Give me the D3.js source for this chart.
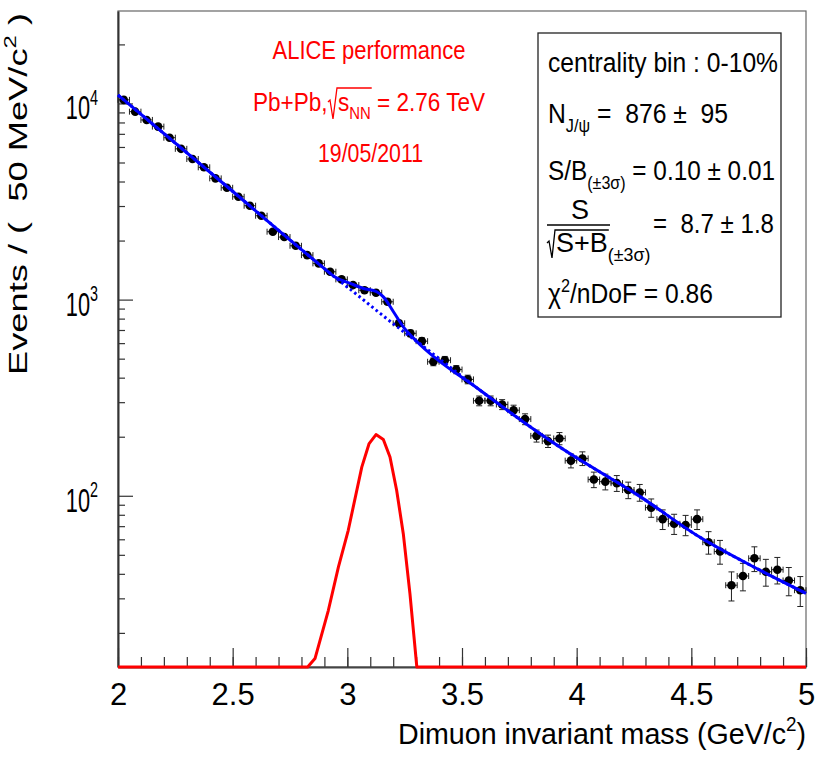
<!DOCTYPE html>
<html>
<head>
<meta charset="utf-8">
<script src="https://cdn.jsdelivr.net/npm/d3@7"></script>
<style>
  body { margin: 0; background: #fff; }
  svg { display: block; font-family: "Liberation Sans", Arial, Helvetica, sans-serif; }
</style>
</head>
<body>
<svg width="816" height="763"></svg>
<script>
// dimuon mass spectrum, 50 MeV/c^2 bins (lower edges)
const binLow = [2.00, 2.05, 2.10, 2.15, 2.20, 2.25, 2.30, 2.35, 2.40, 2.45,
  2.50, 2.55, 2.60, 2.65, 2.70, 2.75, 2.80, 2.85, 2.90, 2.95,
  3.00, 3.05, 3.10, 3.15, 3.20, 3.25, 3.30, 3.35, 3.40, 3.45,
  3.50, 3.55, 3.60, 3.65, 3.70, 3.75, 3.80, 3.85, 3.90, 3.95,
  4.00, 4.05, 4.10, 4.15, 4.20, 4.25, 4.30, 4.35, 4.40, 4.45,
  4.50, 4.55, 4.60, 4.65, 4.70, 4.75, 4.80, 4.85, 4.90, 4.95];
const binWidth = 0.05;
const counts = [10430, 9080, 8240, 7620, 6690, 5870, 5210, 4725, 4150, 3716,
  3343, 3010, 2677, 2219, 2084, 1881, 1686, 1530, 1387, 1268,
  1186, 1117, 1084, 975, 757, 673, 614, 482, 491, 440,
  392, 305, 305, 292, 273, 246, 202, 190, 196, 151,
  155, 121, 118, 116, 107, 104, 87, 76, 72, 71,
  76, 58, 52, 35, 39, 48, 41, 42, 37, 33];

// total fit (solid blue)
const fitMass = [2.0, 2.488, 2.80, 2.90, 2.946, 3.012, 3.07, 3.128, 3.157, 3.201, 3.244, 3.303, 3.579, 3.928, 4.277, 4.538, 4.80, 5.0];
const fitTotal = [11040, 3664, 1800, 1440, 1303, 1211, 1140, 1097, 1033, 867, 726, 612, 345, 176.6, 99, 61.4, 41.7, 31.8];

// background only (dotted blue)
const bgMass = [2.0, 2.488, 2.80, 2.90, 2.946, 3.041, 3.128, 3.215, 3.303, 3.579, 3.928, 4.277, 4.538, 4.80, 5.0];
const bgValues = [11040, 3664, 1800, 1440, 1300, 1062, 879, 730, 612, 345, 176.6, 99, 61.4, 41.7, 31.8];

// J/psi signal (red), zero = below the axis minimum
const sigMass = [2.0, 2.827, 2.859, 2.917, 2.961, 3.004, 3.063, 3.095, 3.125, 3.157, 3.186, 3.215, 3.244, 3.273, 3.303, 5.0];
const sigValues = [0, 0, 14.8, 26.0, 43.3, 66.7, 140, 184.6, 205, 193.6, 157.7, 106.7, 64.1, 31.7, 0, 0];

const xTickLabels = [2, 2.5, 3, 3.5, 4, 4.5, 5];
const yTickExponents = [2, 3, 4];

const svg = d3.select('svg');
const width = 816;
const height = 763;
const margin = { top: 11, right: 10, bottom: 96, left: 118 };
const innerWidth = width - margin.left - margin.right;
const innerHeight = height - margin.top - margin.bottom;

const yMin = 13.4;
const xScale = d3.scaleLinear().domain([2, 5]).range([0, innerWidth]);
const yScale = d3.scaleLog().domain([yMin, 29600]).range([innerHeight, 0]);

// text with sub/superscripts: parts = [[string, kind, dx]]
const richText = (parent, x, y, parts, opts) => {
  const size = opts.size;
  const t = parent.append('text')
    .attr('x', x)
    .attr('y', y)
    .attr('font-size', size)
    .attr('fill', opts.fill || '#000')
    .attr('text-anchor', opts.anchor || 'start')
    .style('white-space', 'pre');
  let shift = 0;
  parts.forEach(([str, kind, dx]) => {
    const target = kind === 'sub' ? 0.32 * size : kind === 'sup' ? -0.42 * size : 0;
    const small = kind === 'sub' || kind === 'sup';
    const ts = t.append('tspan')
      .attr('dy', target - shift)
      .attr('font-size', small ? size * 0.66 : size)
      .text(str);
    if (dx) ts.attr('dx', dx);
    shift = target;
  });
  if (opts.length) {
    t.attr('textLength', opts.length).attr('lengthAdjust', 'spacingAndGlyphs');
  }
  return t;
};

const g = svg.append('g')
  .attr('transform', `translate(${margin.left},${margin.top})`);

g.append('clipPath').attr('id', 'plot-clip')
  .append('rect')
  .attr('x', -1).attr('y', -1)
  .attr('width', innerWidth + 2).attr('height', innerHeight + 4);

// frame
g.append('rect')
  .attr('width', innerWidth)
  .attr('height', innerHeight)
  .attr('fill', 'none')
  .attr('stroke', '#666')
  .attr('stroke-width', 1.2);

// x axis
const xMinor = xScale.ticks(30);
const xAxisMinor = d3.axisBottom(xScale).tickValues(xMinor).tickSize(-10).tickSizeOuter(0);
const xAxisMajor = d3.axisBottom(xScale).tickValues(xTickLabels).tickSize(-19).tickSizeOuter(0)
  .tickFormat(d3.format('~g'));

const xMinorG = g.append('g').attr('transform', `translate(0,${innerHeight})`).call(xAxisMinor);
xMinorG.select('.domain').remove();
xMinorG.selectAll('text').remove();
const xAxisG = g.append('g').attr('transform', `translate(0,${innerHeight})`).call(xAxisMajor);
xAxisG.select('.domain').attr('stroke', '#444').attr('stroke-width', 2);
xAxisG.selectAll('.tick text')
  .attr('dy', null)
  .attr('y', 38)
  .attr('font-size', 31)
  .attr('font-family', '"Liberation Sans", Arial, sans-serif')
  .attr('fill', '#000');

richText(g, innerWidth, 733, [['Dimuon invariant mass (GeV/c'], ['2', 'sup'], [')']],
  { size: 30, anchor: 'end', length: 408 });

// y axis
const yMinor = [];
[10, 100, 1000, 10000].forEach(d => {
  for (let k = 2; k <= 9; k++) {
    const v = k * d;
    if (v > yMin && v < 29600) yMinor.push(v);
  }
});
const yMajor = yTickExponents.map(e => Math.pow(10, e));
const yAxisMinor = d3.axisLeft(yScale).tickValues(yMinor).tickSize(-7).tickSizeOuter(0);
const yAxisMajor = d3.axisLeft(yScale).tickValues(yMajor).tickSize(-15).tickSizeOuter(0);
const yMinorG = g.append('g').call(yAxisMinor);
yMinorG.select('.domain').remove();
yMinorG.selectAll('text').remove();
const yAxisG = g.append('g').call(yAxisMajor);
yAxisG.select('.domain').attr('stroke', '#333').attr('stroke-width', 2);
yAxisG.selectAll('.tick text').remove();
g.selectAll('.tick line').attr('stroke', '#333').attr('stroke-width', 1.2);

// 10^n labels, narrow like the original font
yTickExponents.forEach(e => {
  const lg = g.append('g')
    .attr('transform', `translate(-20,${yScale(Math.pow(10, e)) + 16}) scale(0.64,1)`);
  richText(lg, 0, 0, [['10'], [String(e), 'sup']], { size: 34, anchor: 'end' });
});

const yTitle = svg.append('g').attr('transform', 'translate(27,375) rotate(-90)');
richText(yTitle, 0, 0, [['Events / (  50 MeV/c'], ['2', 'sup'], [' )']],
  { size: 26, length: 362 });

// plot contents
const plotG = g.append('g').attr('clip-path', 'url(#plot-clip)');
const data = binLow.map((lo, i) => ({
  lo: lo,
  hi: lo + binWidth,
  mid: lo + binWidth / 2,
  n: counts[i],
  err: Math.sqrt(counts[i]) // Poisson errors
}));

const cap = 3;
const pts = plotG.selectAll('.pt').data(data).enter().append('g').attr('class', 'pt');
pts.append('line')
  .attr('x1', d => xScale(d.lo)).attr('x2', d => xScale(d.hi))
  .attr('y1', d => yScale(d.n)).attr('y2', d => yScale(d.n));
pts.append('line')
  .attr('x1', d => xScale(d.mid)).attr('x2', d => xScale(d.mid))
  .attr('y1', d => yScale(d.n - d.err)).attr('y2', d => yScale(d.n + d.err));
[d => d.lo, d => d.hi].forEach(f => {
  pts.append('line')
    .attr('x1', d => xScale(f(d))).attr('x2', d => xScale(f(d)))
    .attr('y1', d => yScale(d.n) - cap).attr('y2', d => yScale(d.n) + cap);
});
[d => d.n - d.err, d => d.n + d.err].forEach(f => {
  pts.append('line')
    .attr('x1', d => xScale(d.mid) - cap).attr('x2', d => xScale(d.mid) + cap)
    .attr('y1', d => yScale(f(d))).attr('y2', d => yScale(f(d)));
});
pts.selectAll('line').attr('stroke', '#222').attr('stroke-width', 1);
pts.append('circle')
  .attr('cx', d => xScale(d.mid))
  .attr('cy', d => yScale(d.n))
  .attr('r', 4.3)
  .attr('fill', '#000');

// fit curves
const fitLine = d3.line()
  .x(d => xScale(d[0]))
  .y(d => yScale(Math.max(d[1], yMin)))
  .curve(d3.curveMonotoneX);

plotG.append('path')
  .datum(bgMass.map((m, i) => [m, bgValues[i]]))
  .attr('d', fitLine)
  .attr('fill', 'none')
  .attr('stroke', '#0000ff')
  .attr('stroke-width', 3)
  .attr('stroke-dasharray', '2.5,3');

plotG.append('path')
  .datum(fitMass.map((m, i) => [m, fitTotal[i]]))
  .attr('d', fitLine)
  .attr('fill', 'none')
  .attr('stroke', '#0000ff')
  .attr('stroke-width', 3);

plotG.append('path')
  .datum(sigMass.map((m, i) => [m, sigValues[i]]))
  .attr('d', d3.line().x(d => xScale(d[0])).y(d => yScale(Math.max(d[1], yMin))))
  .attr('fill', 'none')
  .attr('stroke', '#ff0000')
  .attr('stroke-width', 3)
  .attr('stroke-linejoin', 'round');

// ALICE label
const red = '#ff0000';
richText(svg, 369, 59, [['ALICE performance']], { size: 26, anchor: 'middle', fill: red, length: 193 });
const energy = richText(svg, 369, 111,
  [['Pb+Pb,'], ['s', null, 12], ['NN', 'sub'], [' = 2.76 TeV']],
  { size: 26, anchor: 'middle', fill: red, length: 232 });
{
  const node = energy.node();
  const sx = node.getStartPositionOfChar(6).x;
  const ex = node.getEndPositionOfChar(8).x;
  svg.append('path')
    .attr('d', `M${sx - 10},${102} L${sx - 8},${100} L${sx - 5},${119} L${sx - 1},${88} L${ex + 1},${88}`)
    .attr('fill', 'none')
    .attr('stroke', red)
    .attr('stroke-width', 1.3);
}
richText(svg, 370.5, 162, [['19/05/2011']], { size: 26, anchor: 'middle', fill: red, length: 105 });

// stats box
const box = svg.append('g');
box.append('rect')
  .attr('x', 538).attr('y', 33)
  .attr('width', 243).attr('height', 284)
  .attr('fill', '#fff')
  .attr('stroke', '#222')
  .attr('stroke-width', 1.3);

const bx = 548;
richText(box, bx, 72, [['centrality bin : 0-10%']], { size: 27, length: 230 });
richText(box, bx, 123, [['N'], ['J/\u03c8', 'sub'], [' =  876 \u00b1  95']], { size: 27, length: 180 });
richText(box, bx, 180, [['S/B'], ['(\u00b13\u03c3)', 'sub'], [' = 0.10 \u00b1 0.01']], { size: 27, length: 227 });
richText(box, 580, 219, [['S']], { size: 27, anchor: 'middle' });
box.append('line')
  .attr('x1', bx - 1).attr('x2', 610)
  .attr('y1', 225).attr('y2', 225)
  .attr('stroke', '#000').attr('stroke-width', 1.5);
const denom = richText(box, bx, 252, [['S+B', null, 8], ['(\u00b13\u03c3)', 'sub']], { size: 27 });
{
  const node = denom.node();
  const sx = node.getStartPositionOfChar(0).x;
  const ex = node.getEndPositionOfChar(2).x;
  box.append('path')
    .attr('d', `M${sx - 9},${243} L${sx - 7},${241} L${sx - 4},${258} L${sx - 1},${230} L${ex + 1},${230}`)
    .attr('fill', 'none')
    .attr('stroke', '#000')
    .attr('stroke-width', 1.3);
}
richText(box, 653, 233, [['=  8.7 \u00b1 1.8']], { size: 27, length: 121 });
richText(box, bx, 303, [['\u03c7'], ['2', 'sup'], ['/nDoF = 0.86']], { size: 27, length: 165 });
</script>
</body>
</html>
